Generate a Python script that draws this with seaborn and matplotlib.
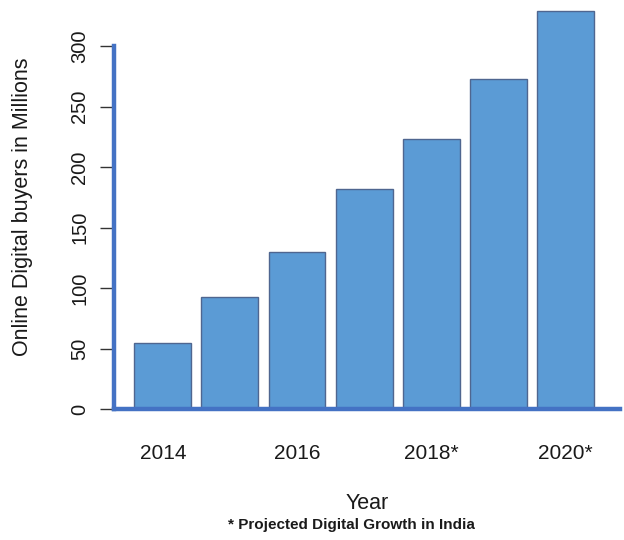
import matplotlib
matplotlib.use("Agg")
import matplotlib.pyplot as plt
import seaborn as sns
import pandas as pd

# Online digital buyers in India (millions); 2018 onward are projections
years = ["2014", "2015", "2016", "2017", "2018", "2019", "2020"]
buyers = [55, 93, 130, 182, 223, 273, 329]
tick_positions = [0, 2, 4, 6]
tick_labels = ["2014", "2016", "2018*", "2020*"]
y_ticks = [0, 50, 100, 150, 200, 250, 300]

sns.set_theme(style="white")
plt.rcParams["font.family"] = ["Liberation Sans", "DejaVu Sans"]

df = pd.DataFrame({"year": years, "buyers": buyers})

fig = plt.figure(figsize=(6.24, 5.4), dpi=100)
ax = fig.add_axes([0.1827, 0.2426, 0.811, 0.75])

sns.barplot(data=df, x="year", y="buyers", color="#5b9bd5", saturation=1,
            width=0.85, edgecolor="#4f6690", linewidth=1.0, ax=ax)

ax.set_xlim(-0.73, 6.82)
ax.set_ylim(0, 335)

ax.set_xticks(tick_positions)
ax.set_xticklabels(tick_labels, fontsize=15, color="#1a1a1a")
ax.tick_params(axis="x", length=0, pad=25)

ax.set_yticks(y_ticks)
ax.set_yticklabels([str(v) for v in y_ticks], fontsize=14.5, rotation=90,
                   va="center", color="#1a1a1a")
ax.tick_params(axis="y", left=True, length=10, width=1.0, color="#333333",
               direction="out", pad=8)

for side in ("top", "right"):
    ax.spines[side].set_visible(False)
ax.spines["left"].set_color("#4472c4")
ax.spines["left"].set_linewidth(3.2)
ax.spines["left"].set_bounds(0, 300)
ax.spines["bottom"].set_color("#4472c4")
ax.spines["bottom"].set_linewidth(3.2)

ax.set_ylabel("Online Digital buyers in Millions", fontsize=15.5,
              color="#1a1a1a", labelpad=27)
ax.set_xlabel("Year", fontsize=15.5, color="#1a1a1a", labelpad=22)

fig.text(0.563, 0.028, "* Projected Digital Growth in India", ha="center",
         va="center", fontsize=11, fontweight="bold", color="#1a1a1a")

fig.savefig("out.png", dpi=100)
